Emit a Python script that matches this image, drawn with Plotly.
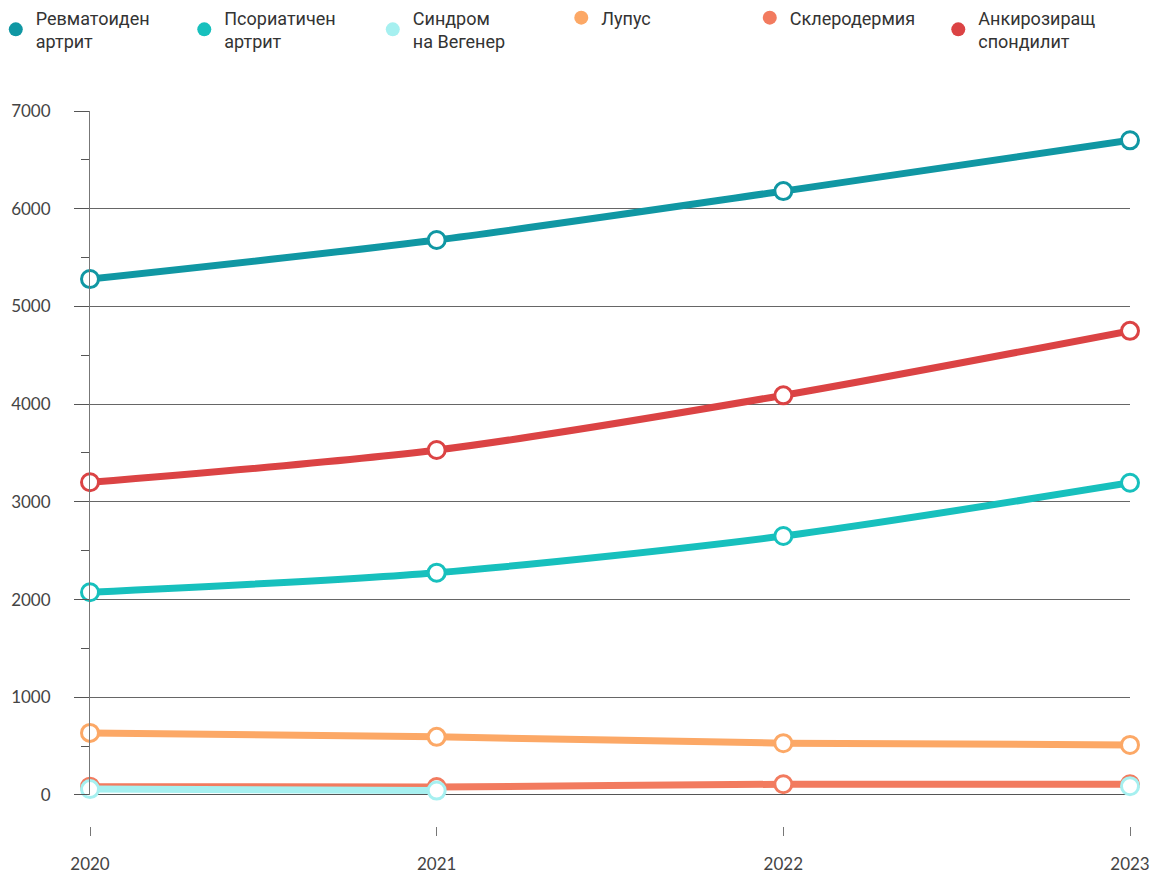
import plotly.graph_objects as go

years = [2020, 2021, 2022, 2023]
names = ["Ревматоиден<br>артрит", "Псориатичен<br>артрит", "Синдром<br>на Вегенер",
         "Лупус", "Склеродермия", "Анкирозиращ<br>спондилит"]
colors = ["#1097a3", "#17c0bd", "#a6f0f0", "#fca866", "#f27b5f", "#db4344"]

rheumatoid = [5280, 5680, 6180, 6700]
psoriatic = [2075, 2275, 2650, 3195]
wegener = [60, 45, None, 90]
lupus = [635, 595, 530, 512]
scleroderma = [85, 82, 110, 110]
spondylitis = [3200, 3530, 4090, 4750]

series = [rheumatoid, psoriatic, wegener, lupus, scleroderma, spondylitis]
draw_order = [5, 0, 1, 3, 4, 2]

fig = go.Figure()
for i in draw_order:
    fig.add_trace(go.Scatter(
        x=years, y=series[i], mode="lines+markers", name=names[i],
        line=dict(color=colors[i], width=7, shape="spline", smoothing=0.8),
        marker=dict(size=17, color="white", line=dict(color=colors[i], width=3)),
        connectgaps=False, cliponaxis=False, showlegend=False,
    ))
for i in range(6):
    fig.add_trace(go.Scatter(
        x=[None], y=[None], mode="markers", name=names[i],
        marker=dict(size=14, color=colors[i]), showlegend=True,
    ))

fig.update_layout(
    width=1158, height=874,
    margin=dict(l=90, r=28, t=111, b=48, autoexpand=False),
    paper_bgcolor="white", plot_bgcolor="white",
    font=dict(family="Lato, Open Sans, sans-serif", size=17, color="#444"),
    showlegend=True,
    legend=dict(
        orientation="h", x=-0.0906, xanchor="left", y=1.156, yanchor="top",
        entrywidth=143.5, entrywidthmode="pixels", itemwidth=30,
        valign="middle", traceorder="normal",
        font=dict(family="Roboto, sans-serif", size=18, color="#333"),
    ),
    xaxis=dict(
        range=[2020, 2023], anchor="free", position=0,
        tickvals=years, ticktext=[str(y) for y in years],
        ticks="outside", ticklen=9, tickcolor="#777", tickwidth=1,
        showgrid=False, showline=False, zeroline=False,
        ticklabelstandoff=14,
        tickfont=dict(size=17, color="#444"),
    ),
    yaxis=dict(
        range=[0, 7000], domain=[0.0434, 1],
        tickvals=[0, 1000, 2000, 3000, 4000, 5000, 6000, 7000],
        ticks="outside", ticklen=15, tickcolor="#555", tickwidth=1,
        showgrid=True, gridcolor="#666", gridwidth=1,
        zeroline=True, zerolinecolor="#555", zerolinewidth=1,
        showline=True, linecolor="#777", linewidth=1,
        minor=dict(dtick=500, ticks="outside", ticklen=8, tickcolor="#555", showgrid=False),
        ticklabelstandoff=20,
        tickfont=dict(size=17, color="#444"),
    ),
)

fig.write_html("out.html")
